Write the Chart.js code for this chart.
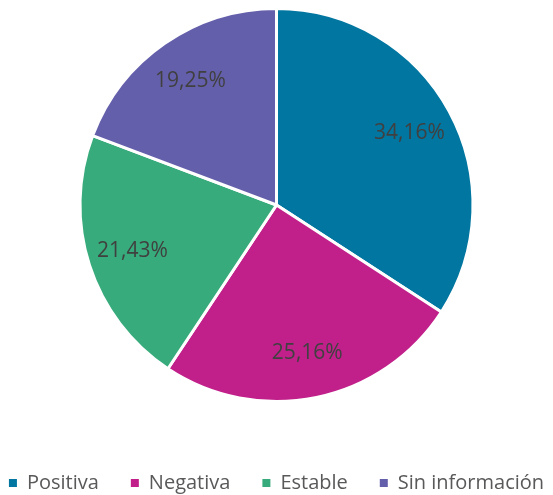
<!DOCTYPE html>
<html>
<head>
<meta charset="utf-8">
<script src="https://cdn.jsdelivr.net/npm/chart.js@4.4.1/dist/chart.umd.min.js"></script>
<style>
body{
    margin:0;
    background:#fff;
}
#wrap{
    width:553px;
    height:495px;
}
</style>
</head>
<body>
<div id="wrap"><canvas id="pieChart"></canvas></div>
<script>
const categories = ["Positiva", "Negativa", "Estable", "Sin información"];
const shares = [34.16, 25.16, 21.43, 19.25];
const colors = ["#0076A0", "#C1208A", "#37AB7B", "#645FAB"];

// percent text inside each slice, about 3/4 of the way out
const sliceLabels = {
    id: "sliceLabels",
    afterDatasetsDraw(chart){
        const ctx = chart.ctx;
        const meta = chart.getDatasetMeta(0);
        ctx.save();
        ctx.font = "21px 'Open Sans'";
        ctx.fillStyle = "#404040";
        ctx.textAlign = "center";
        ctx.textBaseline = "middle";
        meta.data.forEach((arc, i) => {
            const p = arc.getProps(["x", "y", "startAngle", "endAngle", "outerRadius"], true);
            const mid = (p.startAngle + p.endAngle) / 2;
            const r = p.outerRadius * 0.77;
            const text = shares[i].toFixed(2).replace(".", ",") + "%";
            ctx.fillText(text, p.x + Math.cos(mid) * r, p.y + Math.sin(mid) * r);
        });
        ctx.restore();
    }
};

new Chart(document.getElementById("pieChart"), {
    type: "pie",
    data: {
        labels: categories,
        datasets: [{
            data: shares,
            backgroundColor: colors,
            borderColor: "#ffffff",
            borderWidth: 3,
            hoverOffset: 0
        }]
    },
    options: {
        responsive: true,
        maintainAspectRatio: false,
        animation: false,
        layout: {
            padding: {top: 7, bottom: -8, left: -30, right: -30}
        },
        plugins: {
            tooltip: {enabled: false},
            legend: {
                position: "bottom",
                title: {
                    display: true,
                    text: "",
                    padding: {top: 28, bottom: 0},
                    font: {size: 10, lineHeight: 1}
                },
                labels: {
                    boxWidth: 8,
                    boxHeight: 8,
                    padding: 32,
                    color: "#595959",
                    font: {family: "'Open Sans'", size: 20},
                    generateLabels(chart){
                        // no white outline on the legend squares
                        return Chart.overrides.pie.plugins.legend.labels
                            .generateLabels(chart)
                            .map(item => ({...item, lineWidth: 0}));
                    }
                }
            }
        }
    },
    plugins: [sliceLabels]
});
</script>
</body>
</html>
